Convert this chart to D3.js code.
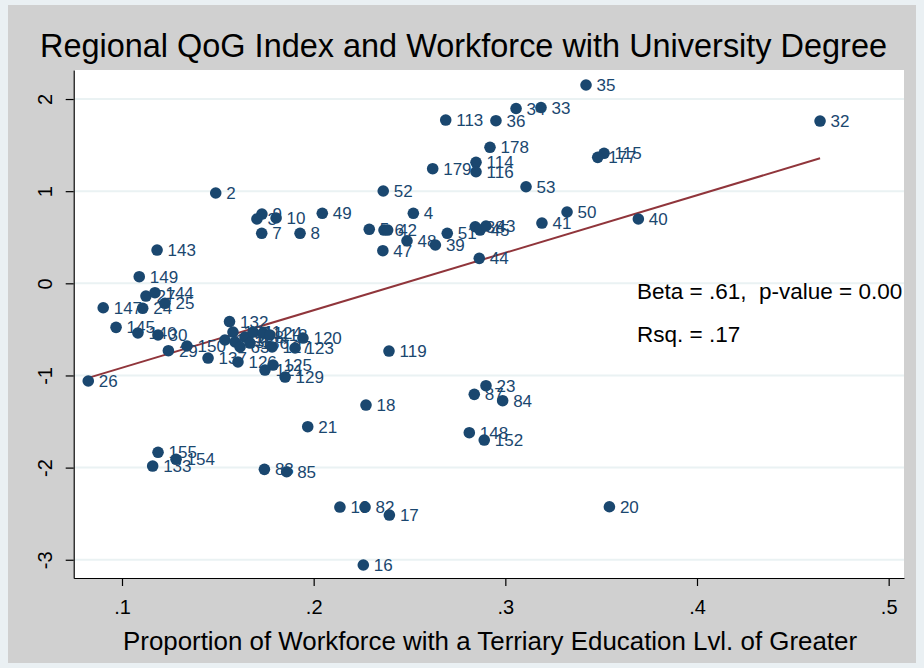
<!DOCTYPE html>
<html>
<head>
<meta charset="utf-8">
<script src="https://cdn.jsdelivr.net/npm/d3@7"></script>
<style>
  html, body { margin: 0; padding: 0; background: #ffffff; }
  svg { display: block; font-family: "Liberation Sans", Arial, sans-serif; }
</style>
</head>
<body>
<svg id="chart" width="924" height="668"></svg>
<script>
// Region identifiers used as marker labels
const regionIds = [
  35, 32, 34, 33, 113, 36, 178, 114, 116, 179,
  115, 177, 53, 52, 2, 9, 3, 10, 7, 8,
  49, 4, 5, 6, 42, 48, 39, 47, 51, 38,
  45, 43, 44, 41, 50, 40, 143, 149, 147, 145,
  24, 27, 144, 25, 140, 30, 29, 150, 137, 132,
  134, 131, 138, 63, 128, 136, 11, 124, 118, 127,
  126, 123, 120, 125, 121, 129, 119, 26, 18, 23,
  87, 84, 148, 152, 20, 21, 155, 154, 133, 83,
  85, 19, 82, 17, 16
];

// Share of the workforce with tertiary education
const workforceShare = [
  0.3421, 0.4642, 0.3056, 0.3186, 0.2689, 0.2951, 0.2920, 0.2847, 0.2847, 0.2621,
  0.3515, 0.3482, 0.3108, 0.2363, 0.1489, 0.1730, 0.1704, 0.1804, 0.1729, 0.1929,
  0.2045, 0.2520, 0.2290, 0.2367, 0.2386, 0.2487, 0.2635, 0.2361, 0.2697, 0.2843,
  0.2868, 0.2899, 0.2864, 0.3191, 0.3322, 0.3694, 0.1183, 0.1090, 0.0902, 0.0969,
  0.1108, 0.1125, 0.1172, 0.1224, 0.1083, 0.1188, 0.1242, 0.1339, 0.1449, 0.1561,
  0.1579, 0.1537, 0.1590, 0.1616, 0.1642, 0.1668, 0.1684, 0.1736, 0.1772, 0.1783,
  0.1605, 0.1903, 0.1944, 0.1788, 0.1746, 0.1851, 0.2393, 0.0824, 0.2273, 0.2899,
  0.2838, 0.2986, 0.2812, 0.2890, 0.3543, 0.1969, 0.1188, 0.1282, 0.1160, 0.1743,
  0.1859, 0.2137, 0.2268, 0.2395, 0.2259
];

// Regional quality of government index
const qogIndex = [
  2.152, 1.761, 1.897, 1.908, 1.772, 1.765, 1.476, 1.313, 1.211, 1.244,
  1.411, 1.367, 1.048, 1.002, 0.980, 0.752, 0.698, 0.709, 0.543, 0.543,
  0.760, 0.760, 0.586, 0.578, 0.578, 0.462, 0.416, 0.354, 0.543, 0.614,
  0.578, 0.622, 0.271, 0.654, 0.774, 0.698, 0.361, 0.072, -0.265, -0.478,
  -0.271, -0.138, -0.102, -0.217, -0.539, -0.561, -0.731, -0.680, -0.811, -0.415,
  -0.529, -0.615, -0.637, -0.691, -0.583, -0.648, -0.529, -0.539, -0.561, -0.691,
  -0.854, -0.702, -0.594, -0.887, -0.941, -1.017, -0.735, -1.060, -1.321, -1.111,
  -1.205, -1.274, -1.621, -1.701, -2.425, -1.556, -1.834, -1.910, -1.983, -2.019,
  -2.045, -2.428, -2.428, -2.515, -3.057
];

// Axis ticks
const xTicks = [0.1, 0.2, 0.3, 0.4, 0.5];
const xTickLabels = [".1", ".2", ".3", ".4", ".5"];
const yTicks = [2, 1, 0, -1, -2, -3];
const yTickLabels = ["2", "1", "0", "-1", "-2", "-3"];

// Linear fit (QoG on workforce share)
const fitIntercept = -1.54;
const fitSlope = 6.24;

// Text
const titleText = "Regional QoG Index and Workforce with University Degree";
const xAxisTitle = "Proportion of Workforce with a Terriary Education Lvl. of Greater";
const statsLines = ["Beta = .61,  p-value = 0.00", "Rsq. = .17"];

const points = regionIds.map((id, i) => ({ id, x: workforceShare[i], y: qogIndex[i] }));

const W = 924, H = 668;
const plot = { left: 73.7, right: 904, top: 70, bottom: 578 };

const svg = d3.select("#chart");

// Graph region
svg.append("rect").attr("x", 0).attr("y", 0).attr("width", W).attr("height", H).attr("fill", "#eaf0f3");
svg.append("rect").attr("x", 8).attr("y", 5).attr("width", W - 16).attr("height", H - 10).attr("fill", "#d0d0d0");

// Plot region
svg.append("rect")
  .attr("x", plot.left).attr("y", plot.top)
  .attr("width", plot.right - plot.left).attr("height", plot.bottom - plot.top)
  .attr("fill", "#ffffff");

const x = d3.scaleLinear().domain([0.0748, 0.508]).range([plot.left, plot.right]);
const y = d3.scaleLinear().domain([-3.198, 2.315]).range([plot.bottom, plot.top]);

// Horizontal grid lines
svg.append("g").selectAll("line").data(yTicks).join("line")
  .attr("x1", plot.left).attr("x2", plot.right)
  .attr("y1", d => y(d)).attr("y2", d => y(d))
  .attr("stroke", "#eaf2f3").attr("stroke-width", 2);

// Fitted line
const xExtent = d3.extent(workforceShare);
svg.append("line")
  .attr("x1", x(xExtent[0])).attr("y1", y(fitIntercept + fitSlope * xExtent[0]))
  .attr("x2", x(xExtent[1])).attr("y2", y(fitIntercept + fitSlope * xExtent[1]))
  .attr("stroke", "#90353b").attr("stroke-width", 2);

// Marker labels
const markerColor = "#1a476f";
svg.append("g").selectAll("text").data(points).join("text")
  .attr("x", d => x(d.x) + 10.5)
  .attr("y", d => y(d.y) + 6)
  .attr("fill", markerColor)
  .attr("font-size", 17)
  .text(d => d.id);

// Markers
svg.append("g").selectAll("circle").data(points).join("circle")
  .attr("cx", d => x(d.x)).attr("cy", d => y(d.y))
  .attr("r", 5.8).attr("fill", markerColor);

// X axis
const xAxis = svg.append("g")
  .attr("transform", `translate(0,${plot.bottom})`)
  .call(d3.axisBottom(x).tickValues(xTicks).tickSize(8).tickSizeOuter(0)
    .tickFormat((d, i) => xTickLabels[i]));
xAxis.select(".domain").attr("stroke", "#000").attr("stroke-width", 1.2);
xAxis.selectAll(".tick line").attr("stroke", "#000").attr("stroke-width", 1.2);
xAxis.selectAll(".tick text")
  .attr("y", 22).attr("dy", "0.71em")
  .attr("font-size", 20).attr("fill", "#000")
  .attr("font-family", "Liberation Sans, Arial, sans-serif");

// Y axis
const yAxis = svg.append("g")
  .attr("transform", `translate(${plot.left},0)`)
  .call(d3.axisLeft(y).tickValues(yTicks).tickSize(8).tickSizeOuter(0)
    .tickFormat((d, i) => yTickLabels[i]));
yAxis.select(".domain").attr("stroke", "#000").attr("stroke-width", 1.2);
yAxis.selectAll(".tick line").attr("stroke", "#000").attr("stroke-width", 1.2);
yAxis.selectAll(".tick text")
  .attr("transform", "rotate(-90)")
  .attr("x", 0).attr("y", -21.5).attr("dy", 0)
  .attr("text-anchor", "middle")
  .attr("font-size", 20).attr("fill", "#000")
  .attr("font-family", "Liberation Sans, Arial, sans-serif");

// Title
svg.append("text")
  .attr("x", 463.5).attr("y", 57)
  .attr("text-anchor", "middle")
  .attr("font-size", 33).attr("fill", "#000")
  .attr("textLength", 847).attr("lengthAdjust", "spacingAndGlyphs")
  .text(titleText);

// X axis title
svg.append("text")
  .attr("x", 490).attr("y", 650)
  .attr("text-anchor", "middle")
  .attr("font-size", 25).attr("fill", "#000")
  .attr("textLength", 734).attr("lengthAdjust", "spacingAndGlyphs")
  .text(xAxisTitle);

// Regression statistics
svg.append("g").selectAll("text").data(statsLines).join("text")
  .attr("x", 637).attr("y", (d, i) => 299 + i * 43)
  .attr("font-size", 22.5).attr("fill", "#000")
  .style("white-space", "pre")
  .text(d => d);
</script>
</body>
</html>
